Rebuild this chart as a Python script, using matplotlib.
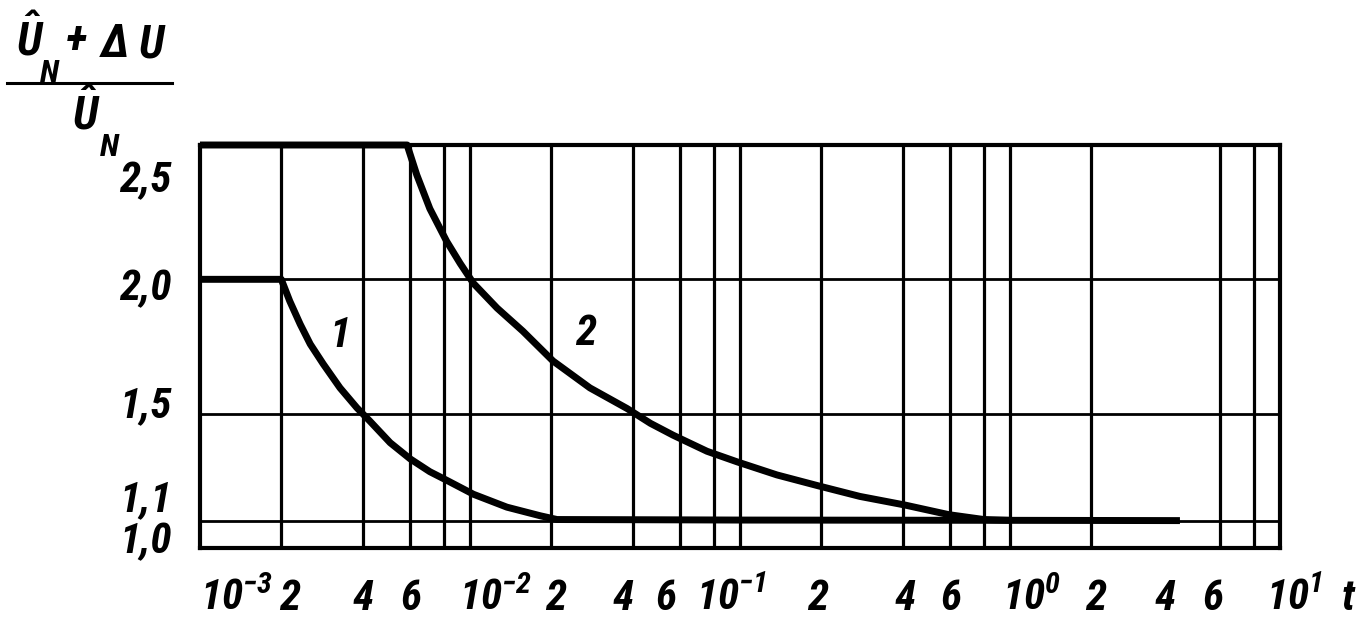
import matplotlib
matplotlib.use('Agg')
import matplotlib.pyplot as plt
from matplotlib import font_manager as fm
from matplotlib.lines import Line2D

# curve 1
t1 = [1e-3, 2e-3, 2.15e-3, 2.35e-3, 2.56e-3, 2.86e-3, 3.3e-3, 3.81e-3, 4.26e-3,
      5.06e-3, 6e-3, 7.1e-3, 8.2e-3, 1.03e-2, 1.37e-2, 1.82e-2, 2.1e-2,
      5e-2, 1e-1, 1e0, 4.26]
u1 = [2.0, 2.0, 1.919, 1.833, 1.759, 1.685, 1.596, 1.522, 1.472,
      1.392, 1.332, 1.284, 1.252, 1.20, 1.152, 1.12, 1.106,
      1.105, 1.104, 1.103, 1.102]

# curve 2
t2 = [1e-3, 5.85e-3, 6.35e-3, 7.1e-3, 8.2e-3, 9.2e-3, 1.03e-2, 1.26e-2, 1.57e-2,
      2.03e-2, 2.78e-2, 3.82e-2, 4.66e-2, 5.65e-2, 7.55e-2, 9.8e-2, 0.137,
      0.194, 0.278, 0.408, 0.594, 0.80, 1.0]
u2 = [2.5, 2.5, 2.389, 2.263, 2.141, 2.059, 1.985, 1.893, 1.807,
      1.696, 1.596, 1.519, 1.464, 1.42, 1.36, 1.32, 1.272,
      1.232, 1.192, 1.16, 1.124, 1.106, 1.103]

# vertical grid lines as drawn (no line at 4*10^0)
vgrid = [2e-3, 4e-3, 6e-3, 8e-3, 1e-2, 2e-2, 4e-2, 6e-2, 8e-2, 1e-1,
         2e-1, 4e-1, 6e-1, 8e-1, 1e0, 2e0, 6e0, 8e0]
hgrid = [1.1, 1.5, 2.0]

# x tick labels and where they stand
xlabels = ['$10^{-3}$', '2', '4', '6', '$10^{-2}$', '2', '4', '6',
           '$10^{-1}$', '2', '4', '6', '$10^{0}$', '2', '4', '6', '$10^{1}$', 't']
xlabel_at = [1.36e-3, 2.15e-3, 4.02e-3, 6.04e-3, 1.24e-2, 2.07e-2, 3.69e-2, 5.32e-2,
             9.27e-2, 0.194, 0.408, 0.604, 1.2, 2.08, 3.75, 5.65, 11.3, 17.9]

ylabels = ['1,0', '1,1', '1,5', '2,0', '2,5']
ylabel_at = [0.981, 1.138, 1.488, 1.923, 2.325]


# narrow lettering if the machine has some, else plain Liberation Sans
def pick_font():
    have = [(f.name, str(f.stretch)) for f in fm.fontManager.ttflist]
    for name in ('Liberation Sans Narrow', 'Roboto Condensed', 'Open Sans Condensed',
                 'DejaVu Sans Condensed'):
        if any(n == name for n, _ in have):
            return name, 'normal'
    if any(n == 'DejaVu Sans' and 'condensed' in s for n, s in have):
        return 'DejaVu Sans', 'condensed'
    return 'Liberation Sans', 'normal'


FAM, STRETCH = pick_font()
plt.rcParams['font.family'] = [FAM, 'DejaVu Sans']
plt.rcParams['font.style'] = 'italic'
plt.rcParams['font.weight'] = 'bold'
plt.rcParams['font.stretch'] = STRETCH
spec = FAM + ':italic:bold' + (':condensed' if STRETCH == 'condensed' else '')
plt.rcParams['mathtext.fontset'] = 'custom'
plt.rcParams['mathtext.rm'] = spec
plt.rcParams['mathtext.it'] = spec
plt.rcParams['mathtext.sf'] = spec
plt.rcParams['mathtext.bf'] = spec
NARROW = FAM != 'Liberation Sans'
FS = 31 if NARROW else 25

W, H = 1365, 625
fig = plt.figure(figsize=(W / 100, H / 100), dpi=100)
ax = fig.add_axes([200 / W, 1 - 548 / H, 1080 / W, 403 / H])
ax.set_xscale('log')
ax.set_xlim(1e-3, 1e1)
ax.set_ylim(1.0, 2.5)
ax.set_xticks([])
ax.set_yticks([])
ax.minorticks_off()
for s in ax.spines.values():
    s.set_linewidth(3.0)
    s.set_color('black')

for v in vgrid:
    ax.axvline(v, color='black', lw=2.3, zorder=1)
for h in hgrid:
    ax.axhline(h, color='black', lw=2.0, zorder=1)

ax.plot(t1, u1, color='black', lw=5.0, solid_capstyle='butt',
        solid_joinstyle='round', clip_on=False, zorder=3)
ax.plot(t2, u2, color='black', lw=5.0, solid_capstyle='butt',
        solid_joinstyle='round', clip_on=False, zorder=3)

ax.text(3.3e-3, 1.79, '1', fontsize=FS, ha='center', va='center')
ax.text(2.67e-2, 1.80, '2', fontsize=FS, ha='center', va='center')

xt = ax.get_xaxis_transform()
for lab, x in zip(xlabels, xlabel_at):
    ax.text(x, -0.154, lab, transform=xt, fontsize=FS, ha='center', va='baseline')

yt = ax.get_yaxis_transform()
for lab, y in zip(ylabels, ylabel_at):
    ax.text(-0.026, y, lab, transform=yt, fontsize=FS, ha='right', va='baseline')


# y axis title as a hand-set fraction
def ftext(px, py, s, size, **kw):
    fig.text(px / W, 1 - py / H, s, fontsize=size, va='baseline', **kw)


ftext(16, 56, r'$\hat{U}$', FS + 2)
ftext(40, 82, 'N', FS - 8)
ftext(66, 54, '+', FS + 2)
ftext(99, 57, r'$\Delta$', FS + 2)
ftext(139, 57, 'U', FS + 2)
fig.add_artist(Line2D([7 / W, 172 / W], [1 - 83 / H, 1 - 83 / H],
                      color='black', lw=2.2))
ftext(72, 130, r'$\hat{U}$', FS + 2)
ftext(100, 156, 'N', FS - 8)

fig.savefig('out.png', dpi=100, facecolor='white')
